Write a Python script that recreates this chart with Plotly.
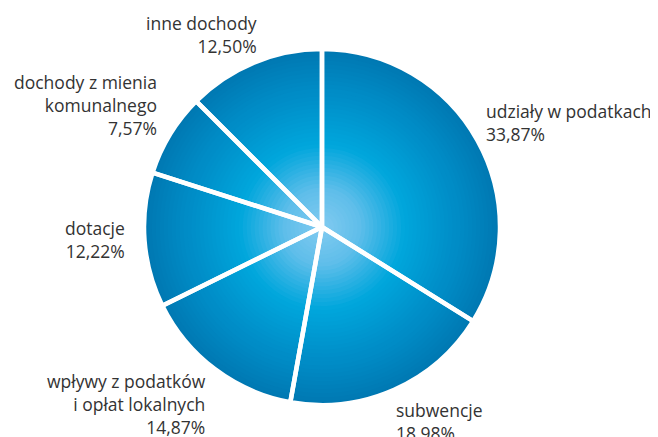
import plotly.graph_objects as go

W, H = 658, 437
OFF = 8  # browser body margin

labels = [
    "udziały w podatkach",
    "subwencje",
    "wpływy z podatków<br>i opłat lokalnych",
    "dotacje",
    "dochody z mienia<br>komunalnego",
    "inne dochody",
]
shares = [33.87, 18.98, 14.87, 12.22, 7.57, 12.50]
share_text = ["33,87%", "18,98%", "14,87%", "12,22%", "7,57%", "12,50%"]

# label anchor (window pixel x, pixel y of block centre, side)
LABEL_POS = [
    (484, 123, "left"),
    (394, 421, "left"),
    (208, 404, "right"),
    (127, 240, "right"),
    (159, 105, "right"),
    (259, 34, "right"),
]

# radial gradient stops: (radius fraction, rgb)
STOPS = [
    (0.0, (128, 202, 240)),
    (0.2, (95, 190, 234)),
    (0.45, (0, 166, 220)),
    (0.75, (0, 140, 198)),
    (1.0, (0, 118, 176)),
]


def grad_color(t):
    for (t0, c0), (t1, c1) in zip(STOPS, STOPS[1:]):
        if t <= t1:
            f = (t - t0) / (t1 - t0)
            c = [round(a + (b - a) * f) for a, b in zip(c0, c1)]
            return f"rgb({c[0]},{c[1]},{c[2]})"
    c = STOPS[-1][1]
    return f"rgb({c[0]},{c[1]},{c[2]})"


cx, cy, R = 322 - OFF, 227 - OFF, 178
domain = dict(
    x=[(cx - R) / W, (cx + R) / W],
    y=[1 - (cy + R) / H, 1 - (cy - R) / H],
)

fig = go.Figure()

N = 45
for i in range(N):
    h = i / N
    col = grad_color(h)
    fig.add_trace(
        go.Pie(
            values=shares,
            labels=labels,
            hole=h,
            sort=False,
            direction="clockwise",
            rotation=0,
            textinfo="none",
            hoverinfo="skip",
            marker=dict(colors=[col] * len(shares), line=dict(width=0)),
            domain=domain,
            showlegend=False,
        )
    )

# white separators on top
fig.add_trace(
    go.Pie(
        values=shares,
        labels=labels,
        sort=False,
        direction="clockwise",
        rotation=0,
        textinfo="none",
        hovertemplate="%{label}: %{value:.2f}%<extra></extra>",
        marker=dict(
            colors=["rgba(0,0,0,0)"] * len(shares),
            line=dict(color="white", width=4.5),
        ),
        domain=domain,
        showlegend=False,
    )
)

for lab, txt, (px, py, side) in zip(labels, share_text, LABEL_POS):
    fig.add_annotation(
        x=(px - OFF) / W,
        y=1 - (py - OFF) / H,
        xref="paper",
        yref="paper",
        text=f"{lab}<br>{txt}",
        showarrow=False,
        xanchor=side,
        yanchor="middle",
        align=side,
        font=dict(family="Open Sans", size=17.5, color="#333333"),
    )

fig.update_layout(
    width=W,
    height=H,
    margin=dict(l=0, r=0, t=0, b=0),
    paper_bgcolor="white",
    plot_bgcolor="white",
)

fig.write_html("out.html")
